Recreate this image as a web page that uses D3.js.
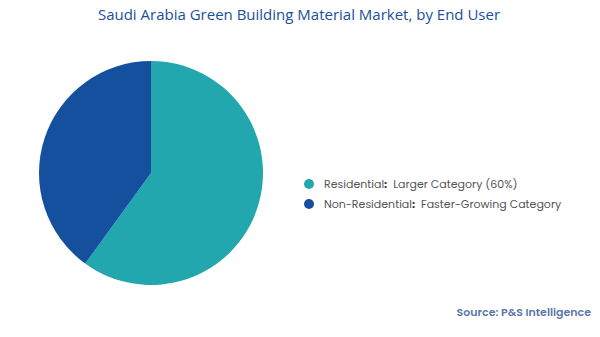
<!DOCTYPE html>
<html><head><meta charset="utf-8">
<script src="https://cdn.jsdelivr.net/npm/d3@7"></script>
<style>body{margin:0;background:#fff;}svg{display:block;}</style>
</head><body>
<svg id="c" width="600" height="337"></svg>
<script>
const categories = ["Residential", "Non-Residential"];
const descriptions = ["Larger Category (60%)", "Faster-Growing Category"];
const values = [60, 40];
const colors = ["#21a7ad", "#15509e"];

const svg = d3.select("#c");
svg.append("text").attr("x", 299).attr("y", 20).attr("text-anchor", "middle")
  .attr("font-family", "Open Sans").attr("font-size", 15).attr("font-weight", 500).attr("fill", "#1a4f9c")
  .text("Saudi Arabia Green Building Material Market, by End User");

const pie = d3.pie().sort(null).value(d => d)(values);
const arc = d3.arc().innerRadius(0).outerRadius(112);
const g = svg.append("g").attr("transform", "translate(151,173)");
g.selectAll("path").data(pie).join("path").attr("d", arc).attr("fill", (d, i) => colors[i]);

const leg = svg.append("g").attr("font-family", "Poppins, Inter, sans-serif").attr("font-size", 11);
categories.forEach((c, i) => {
  const y = 184 + i * 20;
  leg.append("circle").attr("cx", 309).attr("cy", y).attr("r", 5).attr("fill", colors[i]);
  const t = leg.append("text").attr("x", 324).attr("y", y + 4).attr("fill", "#555");
  t.append("tspan").text(c);
  t.append("tspan").attr("font-weight", 700).attr("fill", "#333").text(":");
  t.append("tspan").attr("dx", 6).text(descriptions[i]);
});

svg.append("text").attr("x", 591).attr("y", 316).attr("text-anchor", "end")
  .attr("font-family", "Poppins, Inter, sans-serif").attr("font-size", 11).attr("font-weight", 600)
  .attr("fill", "#5b77aa").text("Source: P&S Intelligence");
</script>
</body></html>
